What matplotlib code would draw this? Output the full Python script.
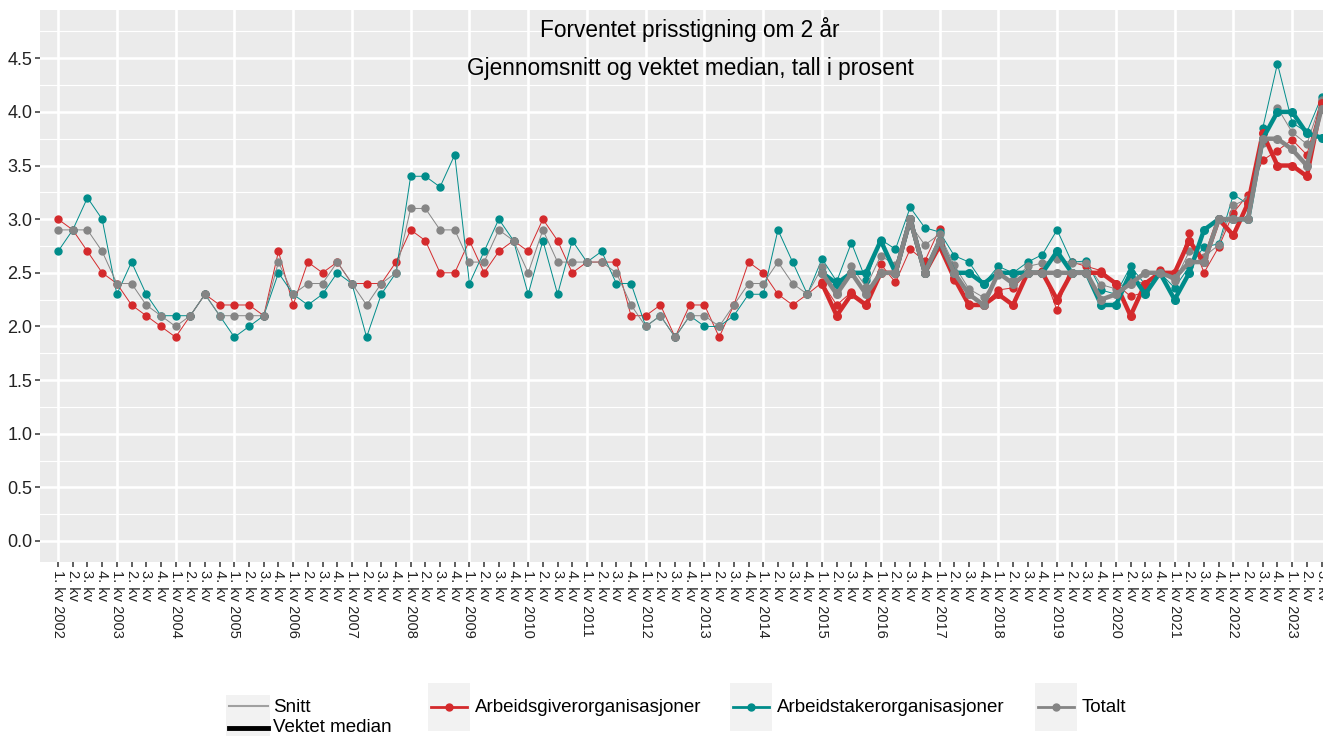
import matplotlib
matplotlib.use("Agg")
import matplotlib.pyplot as plt
from matplotlib.lines import Line2D
from matplotlib.patches import Rectangle

plt.rcParams['font.family'] = ['Liberation Sans', 'DejaVu Sans']

# quarters 1. kv 2002 .. 3. kv 2023
years = list(range(2002, 2024))
quarters = [(y, q) for y in years for q in range(1, 5)][:87]
tick_labels = [f"{q}. kv {y}" if q == 1 else f"{q}. kv" for y, q in quarters]

# gjennomsnitt (snitt)
snitt_giver = [3.0, 2.9, 2.7, 2.5, 2.4, 2.2, 2.1, 2.0, 1.9, 2.1, 2.3, 2.2, 2.2, 2.2, 2.1, 2.7,
               2.2, 2.6, 2.5, 2.6, 2.4, 2.4, 2.4, 2.6, 2.9, 2.8, 2.5, 2.5, 2.8, 2.5, 2.7, 2.8,
               2.7, 3.0, 2.8, 2.5, 2.6, 2.6, 2.6, 2.1, 2.1, 2.2, 1.9, 2.2, 2.2, 1.9, 2.2, 2.6,
               2.5, 2.3, 2.2, 2.3,
               2.41, 2.20, 2.32, 2.21, 2.58, 2.41, 2.72, 2.61, 2.91, 2.43, 2.21, 2.20, 2.34, 2.36,
               2.50, 2.52, 2.15, 2.60, 2.56, 2.52, 2.40, 2.28, 2.32, 2.53, 2.48, 2.87, 2.50, 2.74,
               3.06, 3.23, 3.55, 3.64, 3.74, 3.60, 4.10]
snitt_taker = [2.7, 2.9, 3.2, 3.0, 2.3, 2.6, 2.3, 2.1, 2.1, 2.1, 2.3, 2.1, 1.9, 2.0, 2.1, 2.5,
               2.3, 2.2, 2.3, 2.5, 2.4, 1.9, 2.3, 2.5, 3.4, 3.4, 3.3, 3.6, 2.4, 2.7, 3.0, 2.8,
               2.3, 2.8, 2.3, 2.8, 2.6, 2.7, 2.4, 2.4, 2.0, 2.1, 1.9, 2.1, 2.0, 2.0, 2.1, 2.3,
               2.3, 2.9, 2.6, 2.3,
               2.63, 2.42, 2.78, 2.43, 2.81, 2.72, 3.11, 2.92, 2.88, 2.66, 2.60, 2.40, 2.56, 2.50,
               2.60, 2.67, 2.90, 2.60, 2.61, 2.34, 2.30, 2.56, 2.39, 2.50, 2.36, 2.56, 2.74, 2.77,
               3.23, 3.14, 3.85, 4.45, 3.90, 3.81, 4.14]
snitt_total = [2.9, 2.9, 2.9, 2.7, 2.4, 2.4, 2.2, 2.1, 2.0, 2.1, 2.3, 2.1, 2.1, 2.1, 2.1, 2.6,
               2.3, 2.4, 2.4, 2.6, 2.4, 2.2, 2.4, 2.5, 3.1, 3.1, 2.9, 2.9, 2.6, 2.6, 2.9, 2.8,
               2.5, 2.9, 2.6, 2.6, 2.6, 2.6, 2.5, 2.2, 2.0, 2.1, 1.9, 2.1, 2.1, 2.0, 2.2, 2.4,
               2.4, 2.6, 2.4, 2.3,
               2.55, 2.32, 2.56, 2.37, 2.66, 2.57, 2.95, 2.76, 2.86, 2.57, 2.35, 2.27, 2.48, 2.43,
               2.56, 2.59, 2.63, 2.59, 2.59, 2.39, 2.35, 2.43, 2.40, 2.50, 2.42, 2.70, 2.65, 2.76,
               3.13, 3.19, 3.71, 4.04, 3.81, 3.70, 4.11]

# vektet median, fra 1. kv 2015
median_from = "1. kv 2015"
median_giver = [2.4, 2.1, 2.3, 2.2, 2.5, 2.5, 3.0, 2.5, 2.75, 2.45, 2.2, 2.2, 2.3, 2.2, 2.5, 2.5,
                2.25, 2.5, 2.5, 2.5, 2.4, 2.1, 2.4, 2.5, 2.5, 2.8, 2.6, 3.0, 2.85, 3.15, 3.8, 3.5,
                3.5, 3.4, 4.08]
median_taker = [2.5, 2.4, 2.5, 2.5, 2.8, 2.5, 3.0, 2.5, 2.8, 2.5, 2.5, 2.4, 2.5, 2.5, 2.5, 2.5,
                2.7, 2.5, 2.5, 2.2, 2.2, 2.5, 2.3, 2.5, 2.25, 2.5, 2.9, 3.0, 3.0, 3.0, 3.75, 4.0,
                4.0, 3.8, 3.76]
median_total = [2.5, 2.3, 2.5, 2.3, 2.5, 2.5, 3.0, 2.5, 2.8, 2.5, 2.3, 2.2, 2.5, 2.4, 2.5, 2.5,
                2.5, 2.5, 2.5, 2.25, 2.3, 2.4, 2.5, 2.5, 2.45, 2.6, 2.6, 3.0, 3.0, 3.0, 3.75, 3.75,
                3.65, 3.5, 4.03]

RED = '#D42A2C'
TEAL = '#008C8A'
GRAY = '#858585'

W, H = 1323, 736
fig = plt.figure(figsize=(W / 100, H / 100), dpi=100)
ax = fig.add_axes([40 / W, 1 - 562 / H, 1 - 40 / W, 552 / H])
ax.set_facecolor('#EBEBEB')

x = list(range(len(tick_labels)))
m0 = tick_labels.index(median_from)
xm = x[m0:m0 + len(median_giver)]

for vals, col, z in [(snitt_giver, RED, 3), (snitt_taker, TEAL, 4), (snitt_total, GRAY, 5)]:
    ax.plot(x, vals, color=col, lw=0.7, marker='o', ms=5, zorder=z)
for vals, col, z in [(median_giver, RED, 6), (median_taker, TEAL, 7), (median_total, GRAY, 8)]:
    ax.plot(xm, vals, color=col, lw=3.2, marker='o', ms=5.5, zorder=z)

ax.set_xlim(-1.23, 86.1)
ax.set_ylim(-0.196, 4.95)

ax.set_xticks(x)
ax.set_xticklabels(tick_labels, rotation=270, fontsize=10.5, color='#222222', va='top', ha='center')
yt = [i * 0.5 for i in range(10)]
ax.set_yticks(yt)
ax.set_yticklabels([f"{v:.1f}" for v in yt], fontsize=13, color='#222222')
ax.set_yticks([v + 0.25 for v in yt], minor=True)
ax.tick_params(which='major', length=3.5, width=1.1, color='#333333', pad=2)
ax.tick_params(which='minor', length=0)

ax.grid(which='major', axis='y', color='white', lw=1.8)
ax.grid(which='minor', axis='y', color='white', lw=0.8)
for i, (yr, q) in enumerate(quarters):
    if q == 1:
        ax.axvline(i, color='white', lw=1.9, zorder=0.5)
ax.set_axisbelow(True)
for s in ax.spines.values():
    s.set_visible(False)

fig.text(690 / W, 1 - 30 / H, "Forventet prisstigning om 2 år", ha='center', va='center', fontsize=16.3)
fig.text(690 / W, 1 - 68 / H, "Gjennomsnitt og vektet median, tall i prosent", ha='center', va='center',
         fontsize=16.3)

# legend
def fx(px):
    return px / W


def fy(py):
    return 1 - py / H


def key_bg(x0, y0, x1, y1):
    fig.add_artist(Rectangle((fx(x0), fy(y1)), fx(x1 - x0), (y1 - y0) / H,
                             transform=fig.transFigure, facecolor='#F2F2F2', edgecolor='none'))


key_bg(226, 695, 270, 738)
fig.add_artist(Line2D([fx(229), fx(268)], [fy(706), fy(706)], transform=fig.transFigure, color='#A0A0A0', lw=1.5))
fig.add_artist(Line2D([fx(229), fx(268)], [fy(728), fy(728)], transform=fig.transFigure, color='black', lw=3.5))
fig.text(fx(273), fy(708), "Snitt", ha='left', va='center', fontsize=13.5)
fig.text(fx(273), fy(728), "Vektet median", ha='left', va='center', fontsize=13.5)

for x0, col, label in [(428, RED, "Arbeidsgiverorganisasjoner"),
                       (730, TEAL, "Arbeidstakerorganisasjoner"),
                       (1035, GRAY, "Totalt")]:
    key_bg(x0, 683, x0 + 42, 731)
    fig.add_artist(Line2D([fx(x0 + 3), fx(x0 + 39)], [fy(707), fy(707)], transform=fig.transFigure,
                          color=col, lw=2))
    fig.add_artist(Line2D([fx(x0 + 21)], [fy(707)], transform=fig.transFigure, color=col,
                          marker='o', ms=5))
    fig.text(fx(x0 + 47), fy(707), label, ha='left', va='center', fontsize=13.5)

fig.savefig('out.png', dpi=100)
